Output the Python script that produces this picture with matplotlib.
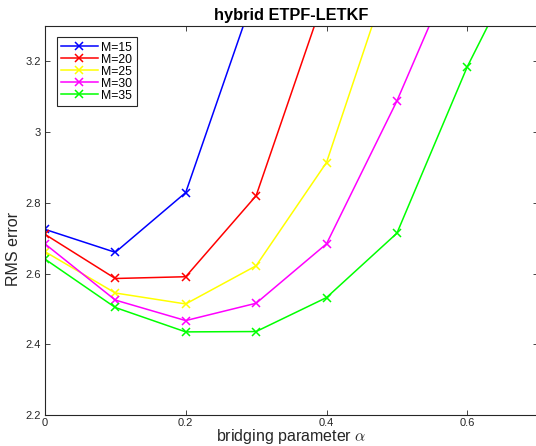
import matplotlib
matplotlib.use("Agg")
import matplotlib.pyplot as plt

plt.rcParams['font.family'] = ['Liberation Sans', 'DejaVu Sans']
plt.rcParams['mathtext.fontset'] = 'cm'

# Data (bridging parameter alpha vs RMS error)
alpha = [0.0, 0.1, 0.2, 0.3, 0.4, 0.5, 0.6, 0.7]
labels = ['M=15', 'M=20', 'M=25', 'M=30', 'M=35']
rms_m15 = [2.725, 2.660, 2.829, 3.405]
rms_m20 = [2.711, 2.586, 2.591, 2.820, 3.400]
rms_m25 = [2.662, 2.545, 2.514, 2.622, 2.914, 3.510]
rms_m30 = [2.684, 2.525, 2.467, 2.516, 2.684, 3.088, 3.550]
rms_m35 = [2.641, 2.504, 2.435, 2.436, 2.532, 2.714, 3.185, 3.580]
colors = ['#0000ff', '#ff0000', '#ffff00', '#ff00ff', '#00ff00']
xticks = [0, 0.2, 0.4, 0.6]
yticks = [2.2, 2.4, 2.6, 2.8, 3.0, 3.2]
ytick_labels = ['2.2', '2.4', '2.6', '2.8', '3', '3.2']

W, H = 536, 446
fig = plt.figure(figsize=(W / 100, H / 100), dpi=100)
ax_l, ax_r, ax_t, ax_b = 44.9, 537.7, 26.0, 415.0
ax = fig.add_axes([ax_l / W, 1 - ax_b / H, (ax_r - ax_l) / W, (ax_b - ax_t) / H])

series = [rms_m15, rms_m20, rms_m25, rms_m30, rms_m35]
for ys, c, lab in zip(series, colors, labels):
    ax.plot(alpha[:len(ys)], ys, color=c, lw=1.1, marker='x', ms=6, mew=1.1, label=lab)

ax.set_xlim(0, 0.7)
ax.set_ylim(2.2, 3.3)
ax.set_xticks(xticks)
ax.set_xticklabels(['0', '0.2', '0.4', '0.6'])
ax.set_yticks(yticks)
ax.set_yticklabels(ytick_labels)
ax.tick_params(direction='in', length=3.5, width=0.6, top=True, right=True,
               labelsize=8, colors='#262626', pad=3)
ax.tick_params(axis='x', pad=2.5)
for s in ax.spines.values():
    s.set_color('#262626')
    s.set_linewidth(0.8)

ax.set_title('hybrid ETPF-LETKF', fontsize=11.8, fontweight='bold', pad=4.5)
ax.set_xlabel(r'bridging parameter $\alpha$', fontsize=11.5, color='#262626')
ax.set_ylabel('RMS error', fontsize=11.5, color='#262626')
ax.xaxis.set_label_coords(0.5, -0.031)
ax.yaxis.set_label_coords(-0.048, 0.428)

leg = ax.legend(loc='upper left', bbox_to_anchor=(0.024, 0.971), borderaxespad=0,
                fontsize=8.8, handlelength=3.0, handletextpad=0.3, labelspacing=0.0,
                borderpad=0.35, fancybox=False, framealpha=1, edgecolor='#262626',
                markerscale=0.85)
leg.get_frame().set_linewidth(0.8)

fig.savefig('out.png', dpi=100)
